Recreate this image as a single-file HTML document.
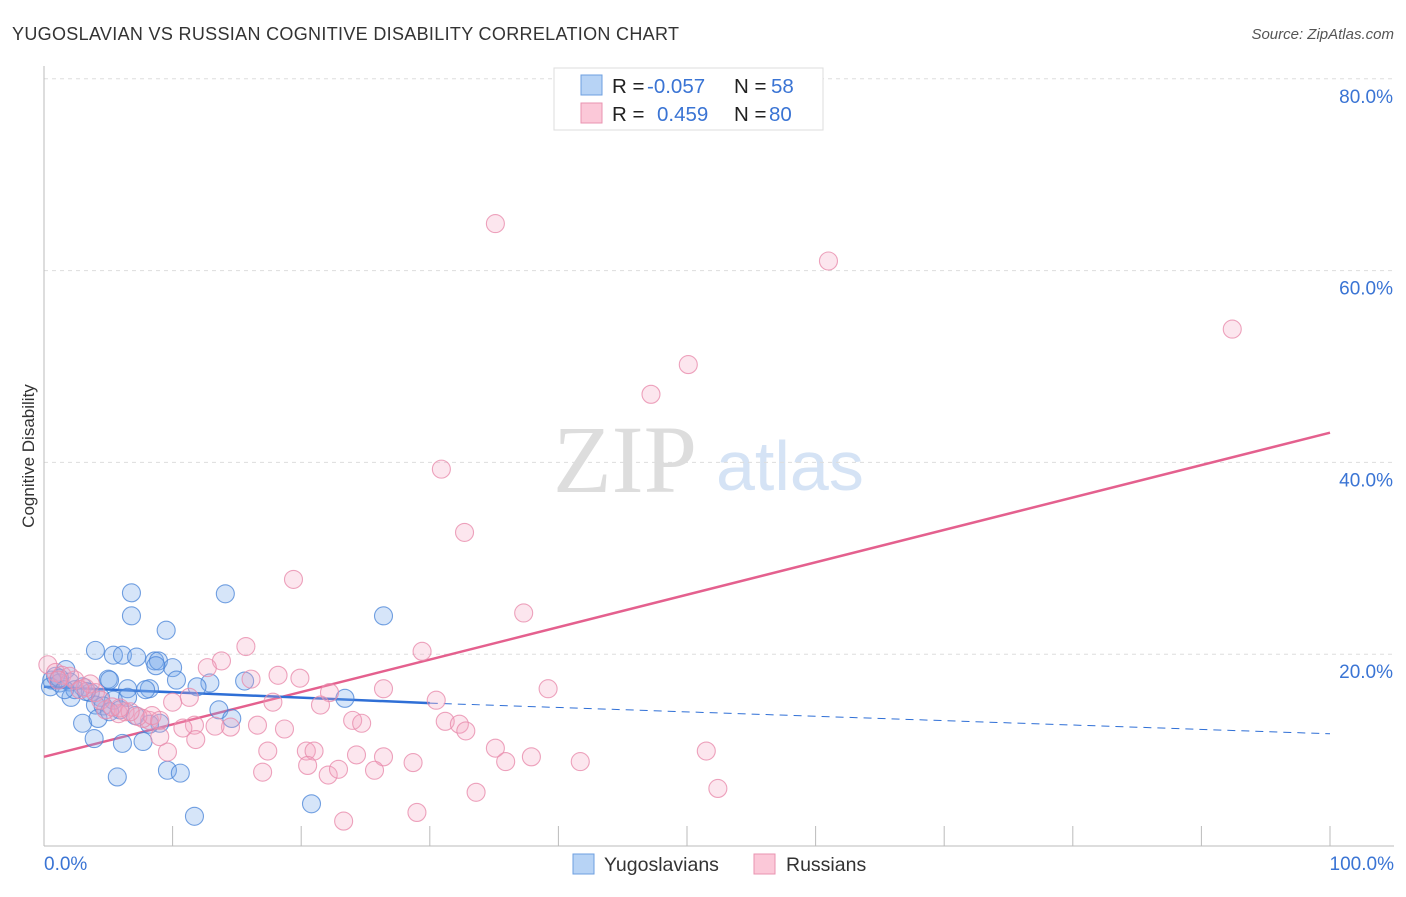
<!DOCTYPE html>
<html><head><meta charset="utf-8"><style>
body{margin:0;background:#fff;font-family:"Liberation Sans",sans-serif}
</style></head><body>
<svg width="1406" height="892" viewBox="0 0 1406 892" id="chart">
<text x="12" y="40" font-size="18" fill="#333" textLength="667" lengthAdjust="spacing">YUGOSLAVIAN VS RUSSIAN COGNITIVE DISABILITY CORRELATION CHART</text>
<text x="1394" y="39" font-size="15" fill="#555" font-style="italic" text-anchor="end">Source: ZipAtlas.com</text>
<text x="34" y="456" font-size="17" fill="#333" text-anchor="middle" transform="rotate(-90 34 456)">Cognitive Disability</text>
<g>
<text x="553" y="492" font-size="96" font-family="Liberation Serif,serif" fill="#ddd">ZIP</text>
<text x="716" y="490" font-size="70" fill="#d5e3f5">atlas</text>
</g>
<g id="grid"></g><g id="axes"></g><g id="lines"></g><g id="pts"></g>
<g>
<rect x="554" y="68" width="269" height="62" fill="#fff" stroke="#ddd"/>
<rect x="581" y="75" width="21" height="20" fill="#b7d3f5" stroke="#6d9fe0"/>
<rect x="581" y="103" width="21" height="20" fill="#fbc8d8" stroke="#ea93b0"/>
<text x="612" y="93" font-size="20.5" fill="#222">R = <tspan x="647" fill="#3a74d4">-0.057</tspan><tspan x="734">N = </tspan><tspan x="771" fill="#3a74d4">58</tspan></text>
<text x="612" y="121" font-size="20.5" fill="#222">R = <tspan x="657" fill="#3a74d4">0.459</tspan><tspan x="734">N = </tspan><tspan x="769" fill="#3a74d4">80</tspan></text>
</g>
<g>
<rect x="573" y="854" width="21" height="20" fill="#b7d3f5" stroke="#6d9fe0"/>
<text x="604" y="871" font-size="19.5" fill="#333">Yugoslavians</text>
<rect x="754" y="854" width="21" height="20" fill="#fbc8d8" stroke="#ea93b0"/>
<text x="786" y="871" font-size="19.5" fill="#333">Russians</text>
</g>
</svg>
<script>
const yTicks=[20,40,60,80];
const yTickLabels=["20.0%","40.0%","60.0%","80.0%"];
const xTickLabels=["0.0%","100.0%"];
const blueX=[6.8,6.8,14.1,9.5,26.4,4.0,5.4,6.1,7.2,8.6,8.9,10.0,8.7,1.7,12.9,15.6,11.9,6.5,8.2,7.9,5.0,5.1,10.3,0.6,0.5,0.9,1.2,2.0,3.0,3.6,2.1,4.4,5.4,4.0,4.6,5.9,7.1,13.6,14.6,9.0,3.0,4.2,3.9,6.1,7.7,5.7,9.6,10.6,11.7,20.8,23.4,8.2,1.2,2.4,3.3,6.5,1.6,5.1];
const blueY=[26.4,24.0,26.3,22.5,24.0,20.4,19.9,19.9,19.7,19.3,19.3,18.6,18.8,18.4,17.0,17.2,16.6,16.4,16.4,16.3,17.4,17.3,17.3,17.3,16.6,17.7,17.0,17.1,16.6,16.0,15.5,15.5,15.2,14.7,14.6,14.2,13.6,14.2,13.3,12.8,12.8,13.3,11.2,10.7,10.9,7.2,7.9,7.6,3.1,4.4,15.4,12.7,17.5,16.3,16.1,15.5,16.3,14.0];
const pinkX=[35.1,61.0,92.4,50.1,47.2,30.9,32.7,19.4,37.3,15.7,29.4,13.8,12.7,16.1,18.2,19.9,11.3,10.0,17.8,22.2,21.5,26.4,30.5,39.2,31.2,32.3,32.8,24.0,24.7,16.6,18.7,14.5,13.3,11.7,10.8,9.6,9.0,11.8,8.2,7.7,7.3,6.3,5.8,4.8,17.4,20.4,21.0,24.3,26.4,35.1,35.9,37.9,41.7,51.5,17.0,20.5,22.1,22.9,25.7,28.7,33.6,52.4,23.3,29.0,0.3,0.9,1.4,2.4,3.2,4.0,4.4,5.3,6.7,8.4,9.0,3.6,2.0,1.1,2.8,5.9];
const pinkY=[64.9,61.0,53.9,50.2,47.1,39.3,32.7,27.8,24.3,20.8,20.3,19.3,18.6,17.4,17.8,17.5,15.5,15.0,15.0,16.0,14.7,16.4,15.2,16.4,13.0,12.7,12.0,13.1,12.8,12.6,12.2,12.4,12.5,12.6,12.3,9.8,11.4,11.1,13.1,13.3,13.5,14.0,13.8,14.2,9.9,9.9,9.9,9.5,9.3,10.2,8.8,9.3,8.8,9.9,7.7,8.4,7.4,8.0,7.9,8.7,5.6,6.0,2.6,3.5,18.9,18.1,17.8,17.3,16.5,16.0,15.2,14.5,14.0,13.6,13.1,16.9,17.7,17.3,16.3,14.4];
const pinkLine=[9.3,43.1];
const blueLine=[16.6,14.9,11.7];
const X=v=>44+v*12.86, Y=v=>846-v*9.59;
const NS="http://www.w3.org/2000/svg";
function mk(t,a,p){const e=document.createElementNS(NS,t);for(const k in a)e.setAttribute(k,a[k]);p.appendChild(e);return e;}
const grid=document.getElementById('grid'),axes=document.getElementById('axes'),lines=document.getElementById('lines'),pts=document.getElementById('pts');
yTicks.forEach((t,i)=>{
 const l=mk('line',{x1:44,x2:1394,y1:Y(t),y2:Y(t),stroke:'#ddd','stroke-dasharray':'4,4'},grid);
 
 
 const tx=mk('text',{x:1393,y:Y(t)+24,'font-size':19,fill:'#3a74d4','text-anchor':'end'},axes);
 tx.textContent=yTickLabels[i];
 
 
});
const ya=mk('line',{x1:44,x2:44,y1:66,y2:846,stroke:'#bbb'},axes);


const xa=mk('line',{x1:44,x2:1394,y1:846,y2:846,stroke:'#bbb'},axes);


for(let i=1;i<=10;i++){
 const t=mk('line',{x1:X(i*10),x2:X(i*10),y1:826,y2:846,stroke:'#bbb'},axes);
 
 
}
[[0,'start',44],[100,'end',1394]].forEach((d,i)=>{
 const tx=mk('text',{x:d[2],y:870,'font-size':19,fill:'#3a74d4','text-anchor':d[1]},axes);
 tx.textContent=xTickLabels[i];
 
 
});
blueX.forEach((x,i)=>{
 const c=mk('circle',{cx:X(x),cy:Y(blueY[i]),r:9,fill:'rgba(120,170,235,0.3)',stroke:'rgba(70,130,215,0.75)','stroke-width':1.1},pts);
 
 
});
pinkX.forEach((x,i)=>{
 const c=mk('circle',{cx:X(x),cy:Y(pinkY[i]),r:9,fill:'rgba(245,165,195,0.28)',stroke:'rgba(232,140,172,0.8)','stroke-width':1.1},pts);
 
 
});
const pl=mk('line',{x1:X(0),y1:Y(pinkLine[0]),x2:X(100),y2:Y(pinkLine[1]),stroke:'#e4608e','stroke-width':2.5},lines);


const bl=mk('line',{x1:X(0),y1:Y(blueLine[0]),x2:X(30),y2:Y(blueLine[1]),stroke:'#2f6fd6','stroke-width':2.5},lines);


const bd=mk('line',{x1:X(30),y1:Y(blueLine[1]),x2:X(100),y2:Y(blueLine[2]),stroke:'#2f6fd6','stroke-width':1,'stroke-dasharray':'8,6'},lines);


</script>
</body></html>
